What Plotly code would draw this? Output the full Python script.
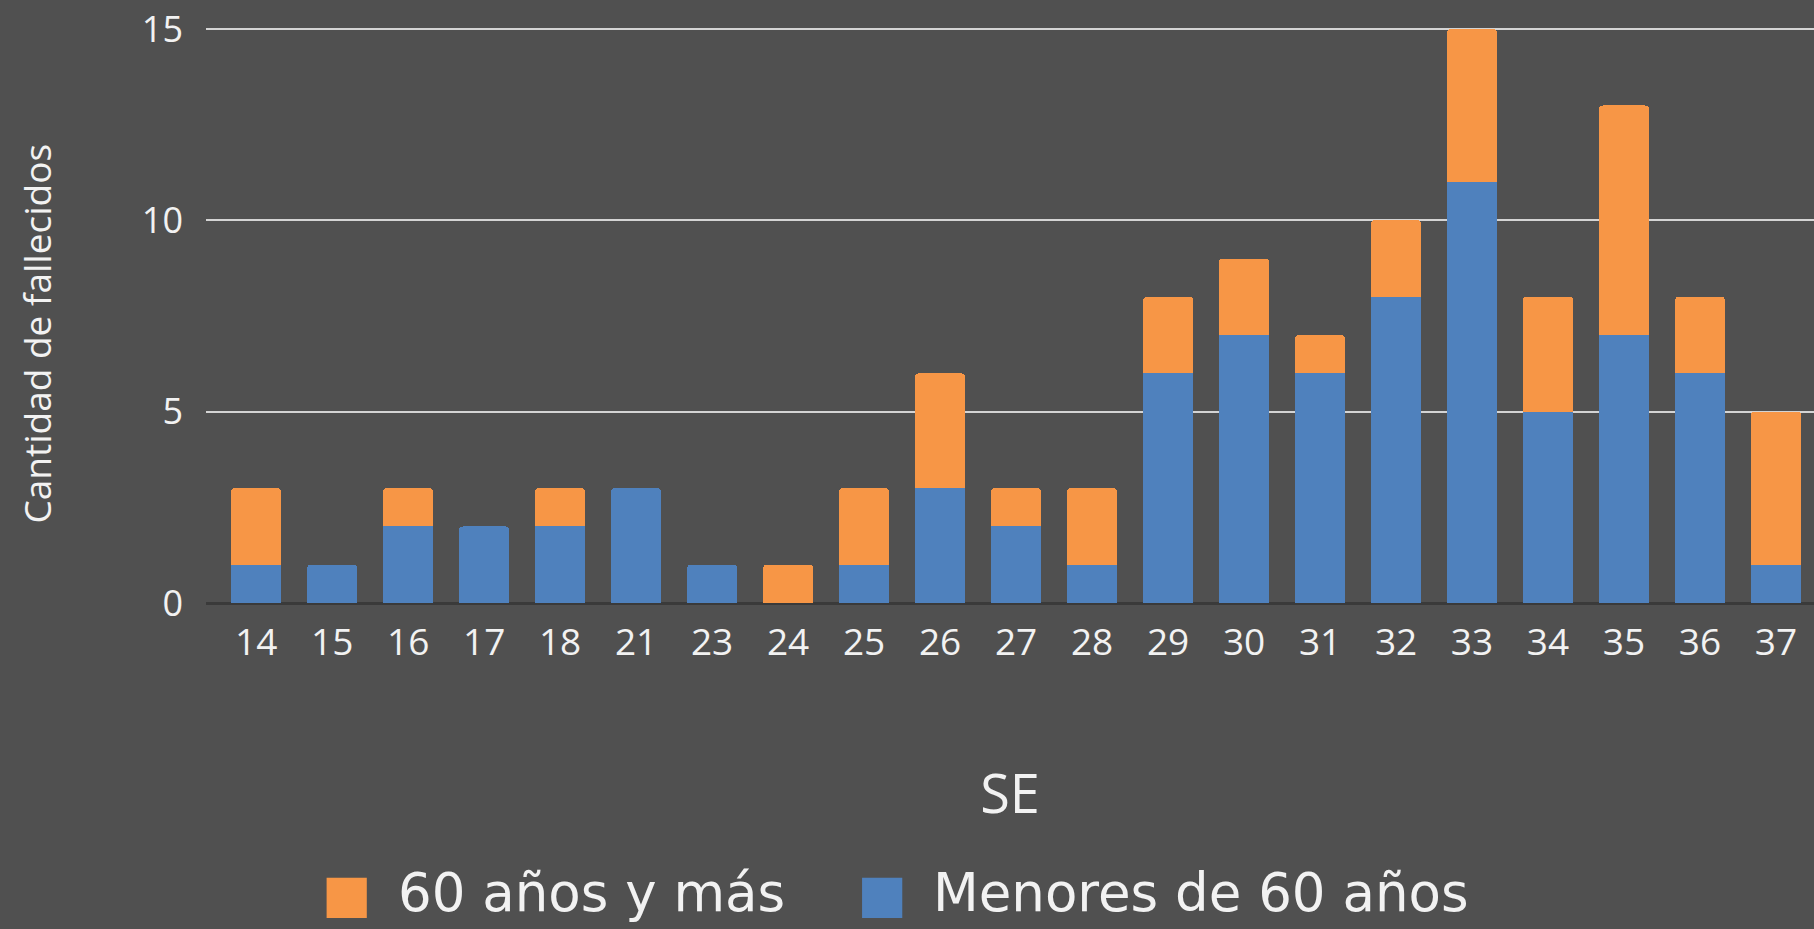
import plotly.graph_objects as go

# semanas epidemiologicas y fallecidos por grupo de edad
semanas = ["14", "15", "16", "17", "18", "21", "23", "24", "25", "26", "27",
           "28", "29", "30", "31", "32", "33", "34", "35", "36", "37"]
menores_60 = [1, 1, 2, 2, 2, 3, 1, 0, 1, 3, 2, 1, 6, 7, 6, 8, 11, 5, 7, 6, 1]
mayores_60 = [2, 0, 1, 0, 1, 0, 0, 1, 2, 3, 1, 2, 2, 2, 1, 2, 4, 3, 6, 2, 4]

nombre_menores = "Menores de 60 años"
nombre_mayores = "60 años y más"
azul = "#4F81BD"
naranja = "#F79646"
fondo = "#505050"
texto = "#F2F2F2"

fig = go.Figure()
fig.add_trace(go.Bar(x=semanas, y=menores_60, name=nombre_menores,
                     marker_color=azul, marker_line_width=0, showlegend=False))
fig.add_trace(go.Bar(x=semanas, y=mayores_60, name=nombre_mayores,
                     marker_color=naranja, marker_line_width=0, showlegend=False))

# leyenda dibujada a mano (cuadros grandes como en el original)
legend_items = [(nombre_mayores, naranja, 0.075, 0.118),
                (nombre_menores, azul, 0.408, 0.451)]
for name, color, x0, xt in legend_items:
    fig.add_shape(type="rect", xref="paper", yref="paper",
                  x0=x0, x1=x0 + 0.025, y0=-0.547, y1=-0.477,
                  fillcolor=color, line_width=0)
    fig.add_annotation(text=name, xref="paper", yref="paper",
                       x=xt, y=-0.502, xanchor="left", yanchor="middle",
                       showarrow=False,
                       font=dict(family="DejaVu Sans", size=53, color=texto))

# titulo del eje y
fig.add_annotation(text="Cantidad de fallecidos", xref="paper", yref="paper",
                   x=-0.106, y=0.467, textangle=-90, showarrow=False,
                   xanchor="center", yanchor="middle",
                   font=dict(family="Open Sans", size=37, color=texto))

fig.update_layout(
    width=1814, height=929,
    barmode="stack",
    bargap=0.34,
    barcornerradius=4,
    paper_bgcolor=fondo,
    plot_bgcolor=fondo,
    margin=dict(l=206, r=0, t=27, b=326),
    font=dict(family="Open Sans", color=texto),
    xaxis=dict(
        type="category",
        range=[-0.66, 20.5],
        showgrid=False,
        ticks="",
        ticklabelstandoff=14,
        tickfont=dict(size=37, color=texto),
        title=dict(text="SE", font=dict(size=54, color=texto), standoff=110),
    ),
    yaxis=dict(
        range=[0, 15.05],
        tickvals=[0, 5, 10, 15],
        showgrid=True,
        gridcolor="#D4D4D4",
        gridwidth=2,
        zeroline=True,
        zerolinecolor="#3A3A3A",
        zerolinewidth=3,
        ticks="",
        ticklabelstandoff=22,
        tickfont=dict(size=36, color=texto),
    ),
)

fig.write_html("out.html", config={"displayModeBar": False},
               post_script="document.body.style.margin='0';")
